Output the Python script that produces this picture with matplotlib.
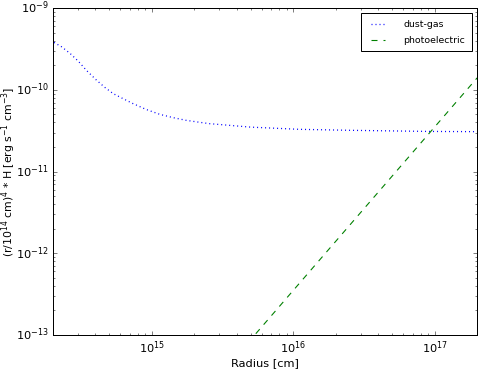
import matplotlib
matplotlib.use("Agg")
import matplotlib.pyplot as plt

# values
radius_dust = [2.04e14, 2.31e14, 2.65e14, 3.03e14, 3.47e14, 4.08e14, 4.67e14,
               5.34e14, 6.28e14, 7.38e14, 9.18e14, 1.14e15, 1.41e15, 1.75e15,
               2.18e15, 2.56e15, 5.0e15, 1.1e16, 2.5e16, 9.0e16, 2.0e17]
heat_dust = [3.80e-10, 3.36e-10, 2.79e-10, 2.24e-10, 1.72e-10, 1.31e-10, 1.07e-10,
             9.0e-11, 7.8e-11, 6.79e-11, 5.74e-11, 5.02e-11, 4.58e-11, 4.24e-11,
             4.01e-11, 3.86e-11, 3.5e-11, 3.29e-11, 3.2e-11, 3.1e-11, 3.08e-11]

radius_pe = [2.0e14, 1.0e15, 1.0e16, 1.0e17, 2.0e17]
heat_pe = [1.4e-16, 3.5e-15, 3.5e-13, 3.5e-11, 1.4e-10]

plt.style.use('classic')
plt.rcParams['mathtext.fontset'] = 'dejavusans'
plt.rcParams['font.size'] = 11.4

fig = plt.figure(figsize=(480 / 72, 369 / 72), dpi=72, facecolor='white')
ax = fig.add_subplot(111)
fig.subplots_adjust(left=0.11, right=0.994, bottom=0.092, top=0.978)

ax.plot(radius_dust, heat_dust, 'b:', lw=1.3, label='dust-gas')
ax.plot(radius_pe, heat_pe, 'g--', lw=1.1, label='photoelectric')

ax.set_xscale('log')
ax.set_yscale('log')
ax.set_xlim(2e14, 2e17)
ax.set_ylim(1e-13, 1e-9)

ax.set_xlabel('Radius [cm]')
ax.set_ylabel(r'(r/10$^{14}$ cm)$^4$ * H [erg s$^{-1}$ cm$^{-3}$]', fontsize=10.9)
ax.xaxis.set_label_coords(0.5, -0.07)
ax.yaxis.set_label_coords(-0.083, 0.5)

ax.legend(loc='upper right', fontsize=9.4, handlelength=2.1, handletextpad=1.7,
          borderpad=0.7, labelspacing=0.75, borderaxespad=0.55)

fig.savefig('out.png', dpi=72, facecolor='white')
